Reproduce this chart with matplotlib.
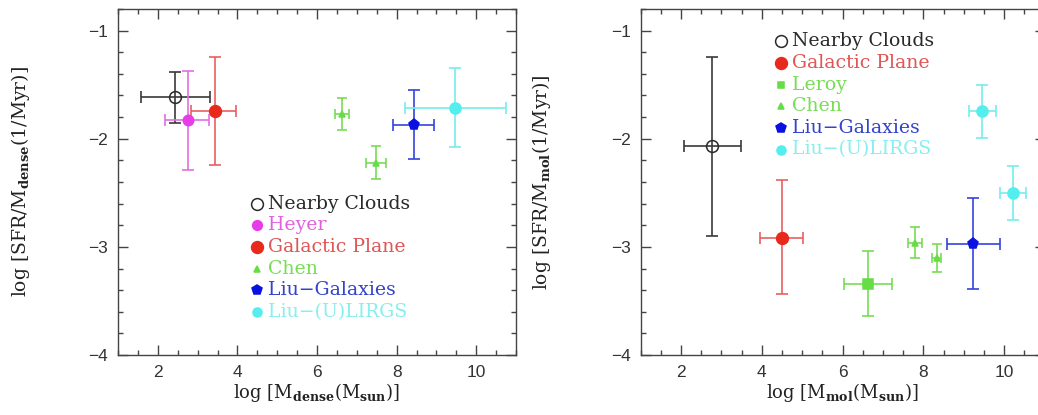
import matplotlib
matplotlib.use('Agg')
import matplotlib.pyplot as plt
from matplotlib.ticker import MultipleLocator

plt.rcParams['font.family'] = ['DejaVu Serif']
plt.rcParams['mathtext.fontset'] = 'dejavuserif'

# ---- left panel: dense gas ----
# each entry: x, x_lo, x_hi, y, y_lo, y_hi
dense_nearby = [[2.44], [1.58], [3.30], [-1.616], [-1.85], [-1.38]]
dense_heyer = [[2.76], [2.19], [3.29], [-1.83], [-2.29], [-1.37]]
dense_gp = [[3.43], [2.84], [3.96], [-1.745], [-2.24], [-1.24]]
dense_chen = [[6.63, 7.49], [6.44, 7.22], [6.80, 7.74],
              [-1.77, -2.22], [-1.92, -2.37], [-1.62, -2.07]]
dense_liugal = [[8.44], [7.91], [8.95], [-1.87], [-2.19], [-1.55]]
dense_lirgs = [[9.47], [8.20], [10.76], [-1.717], [-2.08], [-1.35]]

# ---- right panel: molecular gas ----
mol_nearby = [[2.78], [2.08], [3.49], [-2.07], [-2.90], [-1.24]]
mol_gp = [[4.51], [3.96], [5.03], [-2.915], [-3.44], [-2.38]]
mol_leroy = [[6.62], [6.03], [7.22], [-3.345], [-3.64], [-3.04]]
mol_chen = [[7.79, 8.33], [7.63, 8.22], [7.96, 8.45],
            [-2.96, -3.10], [-3.10, -3.23], [-2.82, -2.97]]
mol_liugal = [[9.22], [8.58], [9.90], [-2.976], [-3.39], [-2.55]]
mol_lirgs = [[9.46, 10.23], [9.13, 9.90], [9.79, 10.54],
             [-1.745, -2.50], [-1.99, -2.75], [-1.50, -2.25]]

dense_series = [('Nearby Clouds', dense_nearby), ('Heyer', dense_heyer),
                ('Galactic Plane', dense_gp), ('Chen', dense_chen),
                ('Liu\u2212Galaxies', dense_liugal), ('Liu\u2212(U)LIRGS', dense_lirgs)]
mol_series = [('Nearby Clouds', mol_nearby), ('Galactic Plane', mol_gp),
              ('Leroy', mol_leroy), ('Chen', mol_chen),
              ('Liu\u2212Galaxies', mol_liugal), ('Liu\u2212(U)LIRGS', mol_lirgs)]

# marker, marker color, errorbar color, text color, marker size, legend size, cap
styles = {
    'Nearby Clouds': ('o', '#2a2a2a', '#3a3a3a', '#2a2a2a', 8.5, 8.5, 4.5),
    'Heyer': ('o', '#e83ce8', '#e070e0', '#e060e0', 7.5, 7, 4.5),
    'Galactic Plane': ('o', '#e82a1c', '#e86060', '#e05555', 8.5, 8.5, 4.5),
    'Leroy': ('s', '#66dd44', '#77dd55', '#77dd55', 6.5, 5, 4.5),
    'Chen': ('^', '#66dd44', '#77dd55', '#77dd55', 4, 4, 3.5),
    'Liu\u2212Galaxies': ('p', '#0a10e0', '#3344dd', '#3344cc', 8, 7.5, 4.5),
    'Liu\u2212(U)LIRGS': ('o', '#55eeee', '#77eeee', '#88eeee', 8, 6.5, 4.5),
}

fig = plt.figure(figsize=(10.38, 4.15), dpi=100)
ax1 = fig.add_axes([118 / 1038, 60 / 415, 398 / 1038, 346 / 415])
ax2 = fig.add_axes([640.5 / 1038, 60 / 415, 404 / 1038, 346 / 415])


def draw(ax, series, leg_y0, xlabel, ylabel):
    for name, (x, xlo, xhi, y, ylo, yhi) in series:
        mk, mc, ec, tc, ms, lms, cap = styles[name]
        xerr = [[a - b for a, b in zip(x, xlo)], [b - a for a, b in zip(x, xhi)]]
        yerr = [[a - b for a, b in zip(y, ylo)], [b - a for a, b in zip(y, yhi)]]
        face = 'none' if name == 'Nearby Clouds' else mc
        ax.errorbar(x, y, xerr=xerr, yerr=yerr, fmt='none', ecolor=ec,
                    elinewidth=1.2, capsize=cap, capthick=1.2, zorder=2)
        ax.plot(x, y, ls='none', marker=mk, ms=ms, mfc=face, mec=mc,
                mew=1.1, zorder=3)
    # hand-placed legend
    for i, (name, _) in enumerate(series):
        mk, mc, ec, tc, ms, lms, cap = styles[name]
        face = 'none' if name == 'Nearby Clouds' else mc
        yy = leg_y0 - 0.2 * i
        ax.plot([4.49], [yy], ls='none', marker=mk, ms=lms, mfc=face,
                mec=mc, mew=1.1)
        ax.text(4.76, yy, name, color=tc, fontsize=13.6, va='center', ha='left')

    ax.set_xlim(1, 11)
    ax.set_ylim(-4, -0.8)
    ax.xaxis.set_major_locator(MultipleLocator(2))
    ax.xaxis.set_minor_locator(MultipleLocator(0.5))
    ax.yaxis.set_major_locator(MultipleLocator(1))
    ax.yaxis.set_minor_locator(MultipleLocator(0.2))
    ax.tick_params(which='both', direction='in', top=True, right=True,
                   color='#444444', width=1)
    ax.tick_params(which='major', length=7, labelsize=12.5, pad=7)
    ax.tick_params(which='minor', length=3.5)
    for lab in ax.get_xticklabels() + ax.get_yticklabels():
        lab.set_family('Liberation Sans')
        lab.set_color('#333333')
    for sp in ax.spines.values():
        sp.set_color('#444444')
        sp.set_linewidth(1)
    ax.set_xlabel(xlabel, fontsize=13, color='#222222', labelpad=1)
    ax.set_ylabel(ylabel, fontsize=13.5, color='#222222')
    ax.yaxis.set_label_coords(-0.216, 0.5)


draw(ax1, dense_series, -2.6,
     r'log [M$_{\mathbf{dense}}$(M$_{\mathbf{sun}}$)]',
     r'log [SFR/M$_{\mathbf{dense}}$(1/Myr)]')
draw(ax2, mol_series, -1.1,
     r'log [M$_{\mathbf{mol}}$(M$_{\mathbf{sun}}$)]',
     r'log [SFR/M$_{\mathbf{mol}}$(1/Myr)]')

fig.savefig('out.png', dpi=100)
